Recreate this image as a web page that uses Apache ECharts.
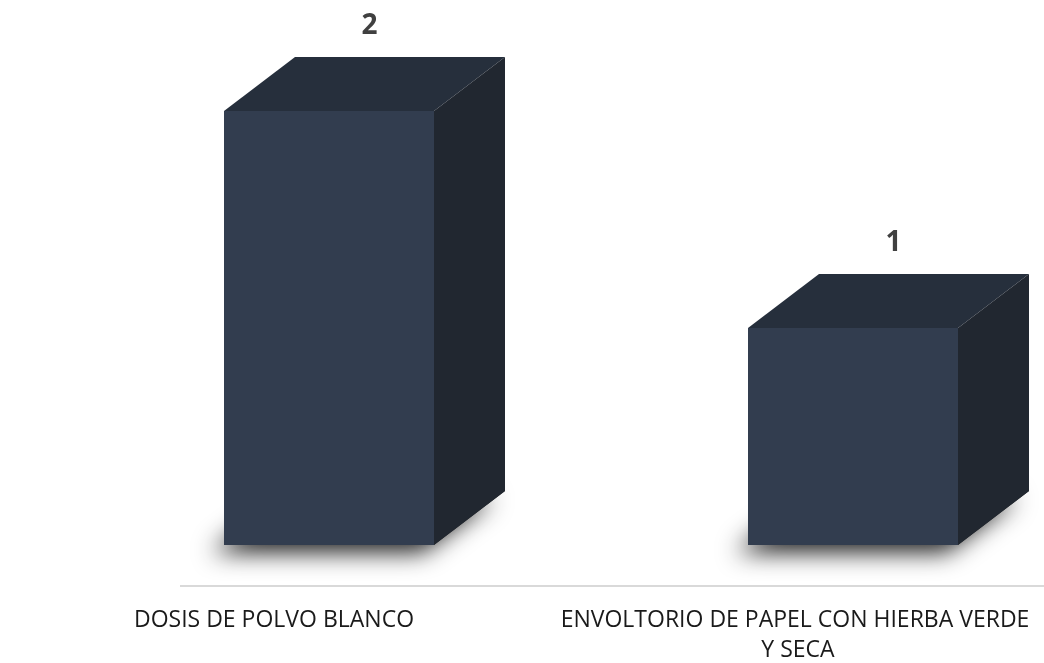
<!DOCTYPE html>
<html>
<head>
<meta charset="utf-8">
<script src="https://cdn.jsdelivr.net/npm/echarts@6/dist/echarts.min.js"></script>
<style>
html,body{margin:0;padding:0;background:#fff;}
#chart{width:1044px;height:663px;}
</style>
</head>
<body>
<div id="chart"></div>
<script>
const categories = ['DOSIS DE POLVO BLANCO', 'ENVOLTORIO DE PAPEL CON HIERBA VERDE Y SECA'];
const values = [2, 1];

const FRONT_W = 210, DX = 71, DY = 54, OFFSET = 55;
const chart = echarts.init(document.getElementById('chart'));
const seriesData = values.map((v, i) => [i, v]);

chart.setOption({
  animation: false,
  grid: { left: 12, width: 1048, top: 111, height: 434, containLabel: false, outerBoundsMode: 'none' },
  xAxis: {
    type: 'category',
    data: categories,
    axisLine: { show: false },
    axisTick: { show: false },
    axisLabel: {
      interval: 0,
      margin: 60,
      color: '#1a1a1a',
      fontFamily: 'Open Sans',
      fontSize: 23,
      lineHeight: 30,
      width: 478,
      overflow: 'break'
    }
  },
  yAxis: { type: 'value', min: 0, max: 2, show: false, splitLine: { show: false } },
  graphic: [{
    type: 'line',
    shape: { x1: 180, y1: 586, x2: 1044, y2: 586 },
    style: { stroke: '#d9d9d9', lineWidth: 2 }
  }],
  series: [{
    type: 'custom',
    clip: false,
    encode: { x: 0, y: 1 },
    data: seriesData,
    renderItem: function (params, api) {
      const p = api.coord([api.value(0), api.value(1)]);
      const b = api.coord([api.value(0), 0]);
      const cx = p[0] + OFFSET;
      const l = cx - FRONT_W / 2, r = cx + FRONT_W / 2;
      const t = p[1], bt = b[1];
      return {
        type: 'group',
        children: [
          {
            type: 'polygon',
            shape: { points: [[l, bt], [r, bt], [r + DX, bt - DY], [l + DX, bt - DY]] },
            style: { fill: '#222', shadowBlur: 24, shadowColor: 'rgba(0,0,0,0.9)', shadowOffsetY: 7, shadowOffsetX: -12 }
          },
          {
            type: 'rect',
            shape: { x: l, y: t, width: FRONT_W, height: bt - t },
            style: { fill: '#323d4f' }
          },
          {
            type: 'polygon',
            shape: { points: [[l, t], [r, t], [r + DX, t - DY], [l + DX, t - DY]] },
            style: { fill: '#262f3c' }
          },
          {
            type: 'polygon',
            shape: { points: [[r, t], [r + DX, t - DY], [r + DX, bt - DY], [r, bt]] },
            style: { fill: '#212730' }
          },
          {
            type: 'text',
            style: {
              x: cx + DX / 2 + 5, y: t - DY - 31,
              text: String(api.value(1)),
              fill: '#404040',
              font: 'bold 28px "Open Sans"',
              align: 'center', verticalAlign: 'middle'
            }
          }
        ]
      };
    }
  }]
});
</script>
</body>
</html>
